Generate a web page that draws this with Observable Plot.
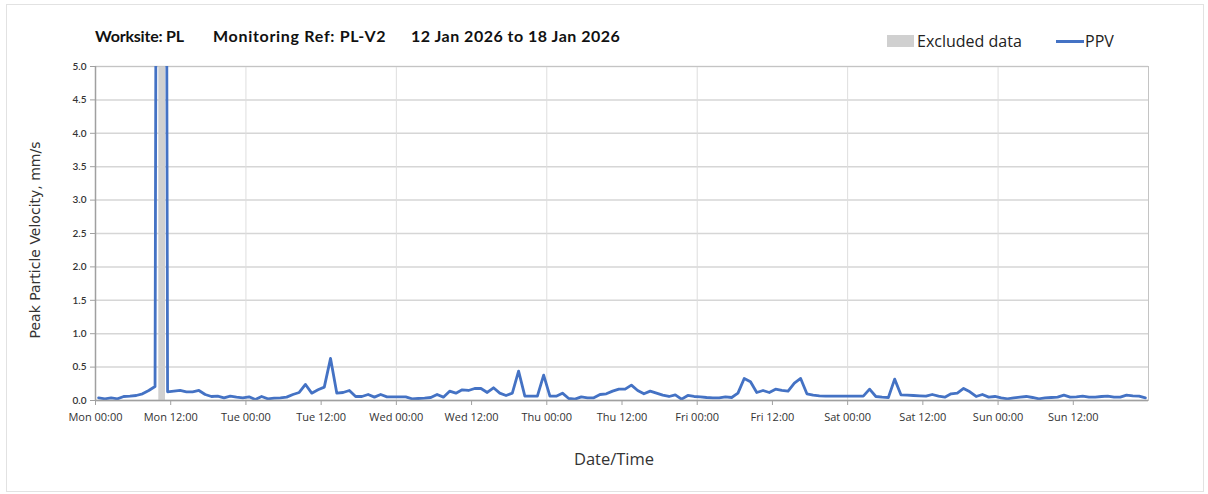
<!DOCTYPE html>
<html>
<head>
<meta charset="utf-8">
<script src="https://cdn.jsdelivr.net/npm/d3@7"></script>
<script src="https://cdn.jsdelivr.net/npm/@observablehq/plot@0.6"></script>
<style>
  body { margin: 0; background: #fff; }
  #wrap { position: relative; width: 1208px; height: 494px; overflow: hidden; background: #fff; }
  #border { position: absolute; left: 6px; top: 4px; width: 1196px; height: 486px; border: 1px solid #e2e2e2; }
  #chart { position: absolute; left: 0; top: 0; }
  .title { position: absolute; top: 26px; font-family: Lato, "Open Sans", sans-serif; font-weight: 700; font-size: 16px; color: #111; white-space: nowrap; }
  .leg { position: absolute; top: 30px; font-family: "Open Sans", sans-serif; font-size: 16px; color: #222; white-space: nowrap; }
  .sw { position: absolute; }
  #ylab { position: absolute; left: 35px; top: 240px; transform: translate(-50%, -50%) rotate(-90deg); font-family: "DejaVu Sans", sans-serif; font-size: 14px; color: #333; white-space: nowrap; }
  #xlab { position: absolute; left: 614px; top: 447px; transform: translateX(-50%); font-family: "Open Sans", sans-serif; font-size: 16.5px; color: #333; white-space: nowrap; }
</style>
</head>
<body>
<div id="wrap">
  <div id="border"></div>
  <div id="chart"></div>
  <div class="title" style="left:95px;letter-spacing:-0.2px">Worksite: PL</div>
  <div class="title" style="left:213px;letter-spacing:0.7px">Monitoring Ref: PL-V2</div>
  <div class="title" style="left:411px;letter-spacing:0.5px">12 Jan 2026 to 18 Jan 2026</div>
  <div class="sw" style="left:887px;top:35px;width:27px;height:12px;background:#d0d0d0"></div>
  <div class="leg" style="left:917px">Excluded data</div>
  <div class="sw" style="left:1056px;top:40px;width:28px;height:3px;background:#4472c4"></div>
  <div class="leg" style="left:1085px">PPV</div>
  <div id="ylab">Peak Particle Velocity, mm/s</div>
  <div id="xlab">Date/Time</div>
</div>
<script>
// ---- data ----
const firstSample = "2026-01-12T00:30:00Z"; // hourly samples at HH:30
const ppv = [
  0.04, 0.025, 0.04, 0.025, 0.06, 0.065, 0.075, 0.10, 0.15, 0.21,
  40, 0.13, 0.14, 0.15, 0.13, 0.13, 0.15, 0.09, 0.06, 0.065,
  0.04, 0.065, 0.05, 0.04, 0.055, 0.015, 0.06, 0.025, 0.035, 0.04,
  0.05, 0.09, 0.12, 0.24, 0.11, 0.16, 0.20, 0.63, 0.11, 0.12,
  0.15, 0.06, 0.06, 0.09, 0.05, 0.09, 0.055, 0.055, 0.055, 0.055,
  0.025, 0.03, 0.035, 0.045, 0.09, 0.05, 0.14, 0.11, 0.16, 0.15,
  0.18, 0.18, 0.12, 0.19, 0.11, 0.075, 0.11, 0.44, 0.065, 0.065,
  0.065, 0.38, 0.065, 0.065, 0.11, 0.03, 0.02, 0.055, 0.04, 0.04,
  0.09, 0.10, 0.14, 0.17, 0.17, 0.23, 0.15, 0.10, 0.14, 0.11,
  0.08, 0.06, 0.085, 0.02, 0.075, 0.06, 0.055, 0.045, 0.04, 0.04,
  0.055, 0.045, 0.11, 0.33, 0.28, 0.12, 0.15, 0.12, 0.17, 0.15,
  0.14, 0.26, 0.33, 0.10, 0.08, 0.07, 0.065, 0.065, 0.065, 0.065,
  0.065, 0.065, 0.065, 0.17, 0.06, 0.05, 0.045, 0.32, 0.085, 0.08,
  0.075, 0.07, 0.065, 0.09, 0.065, 0.05, 0.10, 0.11, 0.18, 0.13,
  0.06, 0.09, 0.05, 0.06, 0.04, 0.025, 0.04, 0.05, 0.06, 0.045,
  0.025, 0.04, 0.045, 0.05, 0.08, 0.05, 0.055, 0.065, 0.05, 0.05,
  0.06, 0.065, 0.05, 0.05, 0.08, 0.07, 0.065, 0.04
];
const excludedPeriods = [["2026-01-12T10:06:00Z", "2026-01-12T11:10:00Z"]];
const xTickLabels = ["Mon 00:00", "Mon 12:00", "Tue 00:00", "Tue 12:00", "Wed 00:00", "Wed 12:00",
  "Thu 00:00", "Thu 12:00", "Fri 00:00", "Fri 12:00", "Sat 00:00", "Sat 12:00", "Sun 00:00", "Sun 12:00"];
const yTicks = [0, 0.5, 1, 1.5, 2, 2.5, 3, 3.5, 4, 4.5, 5];
const xStart = "2026-01-12T00:00:00Z", xEnd = "2026-01-19T00:00:00Z";

// ---- build ----
const t0 = new Date(firstSample);
const rows = ppv.map((v, i) => ({t: d3.utcHour.offset(t0, i), v}));
const excl = excludedPeriods.map(([a, b]) => ({a: new Date(a), b: new Date(b)}));
const x0 = new Date(xStart), x1 = new Date(xEnd);
const tickDates = d3.utcHour.every(12).range(x0, x1);
const dayDates = d3.utcDay.range(d3.utcDay.offset(x0, 1), x1);

const chart = Plot.plot({
  width: 1208, height: 494,
  marginLeft: 95, marginRight: 60, marginTop: 66, marginBottom: 94,
  style: {fontFamily: "'Open Sans', sans-serif", color: "#333", background: "transparent"},
  x: {type: "utc", domain: [x0, x1]},
  y: {domain: [0, 5]},
  marks: [
    Plot.gridY(yTicks, {stroke: "#d6d6d6", strokeOpacity: 1, strokeWidth: 1.5}),
    Plot.gridX(dayDates, {stroke: "#dedede", strokeOpacity: 1, strokeWidth: 1}),
    Plot.rectX(excl, {x1: "a", x2: "b", y1: 0, y2: 5, fill: "#d0d0d0"}),
    Plot.frame({stroke: "#c4c4c4", strokeWidth: 1}),
    Plot.lineY(rows, {x: "t", y: "v", stroke: "#4472c4", strokeWidth: 2.8, clip: true, curve: "linear"}),
    Plot.ruleX([x0], {stroke: "#a0a0a0", strokeWidth: 1.5}),
    Plot.ruleY([0], {stroke: "#a0a0a0", strokeWidth: 1.5}),
    Plot.axisY(yTicks, {tickFormat: d3.format(".1f"), tickSize: 5, tickPadding: 4, stroke: "#a0a0a0", label: null,
      fontSize: 10, fontFamily: "Lato, sans-serif", fontWeight: 600, fill: "#333"}),
    Plot.axisX(tickDates, {tickFormat: (d, i) => xTickLabels[i], tickSize: 5, tickPadding: 8, stroke: "#a0a0a0", label: null,
      fontSize: 11, fill: "#333"})
  ]
});
document.getElementById("chart").appendChild(chart);
</script>
</body>
</html>
